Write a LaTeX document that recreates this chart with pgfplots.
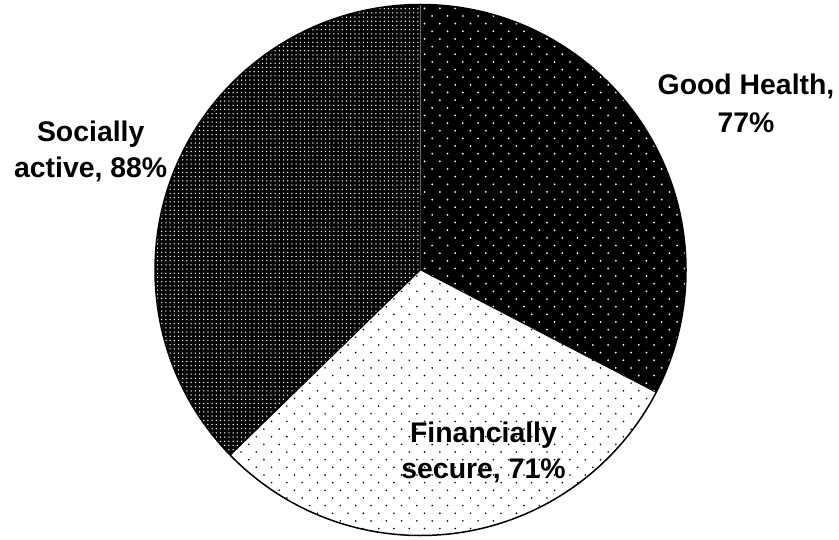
\documentclass[border=0pt]{standalone}
\usepackage{pgfplots}
\pgfplotsset{compat=1.18}
\usepackage{pgfplotstable}
\usepackage{fontspec}
\setmainfont{Liberation Sans}
\usetikzlibrary{patterns}

\pgfdeclarepatternformonly{ghdots}{\pgfpoint{-1bp}{-1bp}}{\pgfpoint{16.3bp}{16.3bp}}{\pgfpoint{15.3bp}{15.3bp}}{%
  \pgfpathcircle{\pgfpoint{3.8bp}{3.8bp}}{1.0bp}%
  \pgfpathcircle{\pgfpoint{11.45bp}{11.45bp}}{1.0bp}%
  \pgfusepath{fill}}
\pgfdeclarepatternformonly{fsdots}{\pgfpoint{-1bp}{-1bp}}{\pgfpoint{16.3bp}{16.3bp}}{\pgfpoint{15.3bp}{15.3bp}}{%
  \pgfpathcircle{\pgfpoint{3.8bp}{3.8bp}}{0.9bp}%
  \pgfpathcircle{\pgfpoint{11.45bp}{11.45bp}}{0.9bp}%
  \pgfusepath{fill}}
\pgfdeclarepatternformonly{sadots}{\pgfpoint{-1bp}{-1bp}}{\pgfpoint{5.2bp}{5.2bp}}{\pgfpoint{4.2bp}{4.2bp}}{%
  \pgfpathcircle{\pgfpoint{2.1bp}{2.1bp}}{0.75bp}%
  \pgfusepath{fill}}

\pgfplotstableread{
label value
GoodHealth 77
Financially 71
Socially 88
}\piedata

\begin{document}
\begin{tikzpicture}
\pgfplotstablegetelem{0}{value}\of\piedata \let\va\pgfplotsretval
\pgfplotstablegetelem{1}{value}\of\piedata \let\vb\pgfplotsretval
\pgfplotstablegetelem{2}{value}\of\piedata \let\vc\pgfplotsretval
\pgfmathsetmacro\tot{\va+\vb+\vc}
\pgfmathsetmacro\aA{90}
\pgfmathsetmacro\aB{90-360*(\va/\tot)}
\pgfmathsetmacro\aC{\aB-360*(\vb/\tot)}
\pgfmathsetmacro\aD{\aC-360*(\vc/\tot)}
\begin{axis}[
  width=839bp, height=540bp, scale only axis,
  xmin=0, xmax=839, ymin=0, ymax=540,
  axis lines=none, ticks=none, clip=false,
]
\path[preaction={fill=black}, pattern=ghdots, pattern color=white]
  (axis cs:420.5,270) -- ++(\aA:265.5bp) arc[start angle=\aA, end angle=\aB, radius=265.5bp] -- cycle;
\path[preaction={fill=white}, pattern=fsdots, pattern color=black]
  (axis cs:420.5,270) -- ++(\aB:265.5bp) arc[start angle=\aB, end angle=\aC, radius=265.5bp] -- cycle;
\path[preaction={fill=black}, pattern=sadots, pattern color=white]
  (axis cs:420.5,270) -- ++(\aC:265.5bp) arc[start angle=\aC, end angle=\aD, radius=265.5bp] -- cycle;
\draw[black, line width=0.8bp] (axis cs:420.5,270) -- ++(\aB:265.5bp);
\draw[black, line width=0.8bp] (axis cs:420.5,270) -- ++(\aC:265.5bp);
\draw[black, line width=1.5bp] (axis cs:420.5,270) circle[radius=265.5bp];
\tikzset{lbl/.style={anchor=base, inner sep=0pt, font=\fontsize{28.5}{34}\selectfont\bfseries}}
\node[lbl] at (axis cs:746,445) {Good Health,};
\node[lbl] at (axis cs:746,407) {77\%};
\node[lbl] at (axis cs:90.7,398.3) {Socially};
\node[lbl] at (axis cs:90.7,363) {active, 88\%};
\node[lbl] at (axis cs:483.5,98) {Financially};
\node[lbl] at (axis cs:483.5,62) {secure, 71\%};
\end{axis}
\useasboundingbox (0,0) rectangle (839bp,540bp);
\end{tikzpicture}
\end{document}
